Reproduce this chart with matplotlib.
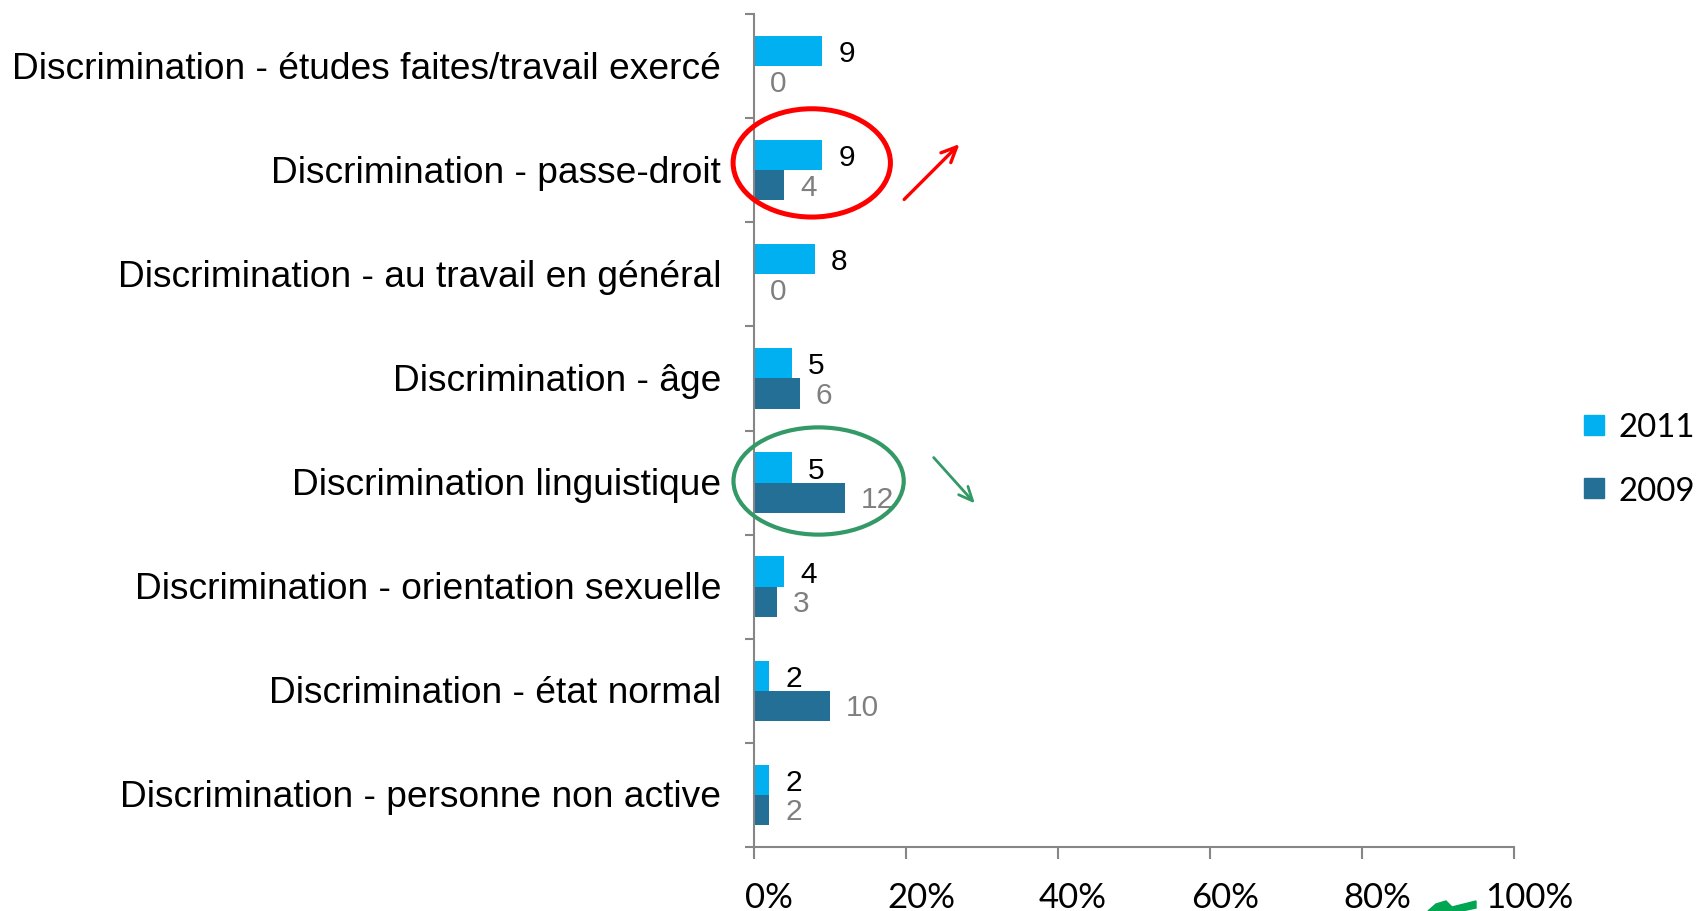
import numpy as np
import matplotlib
matplotlib.use('Agg')
import matplotlib.pyplot as plt
import matplotlib.transforms as mtransforms
from matplotlib.patches import Ellipse, Polygon
from matplotlib.lines import Line2D

# Données
categories = [
    'Discrimination - études faites/travail exercé',
    'Discrimination - passe-droit',
    'Discrimination - au travail en général',
    'Discrimination - âge',
    'Discrimination linguistique',
    'Discrimination - orientation sexuelle',
    'Discrimination - état normal',
    'Discrimination - personne non active',
]
values_2011 = [9, 9, 8, 5, 5, 4, 2, 2]
values_2009 = [0, 4, 0, 6, 12, 3, 10, 2]
series_names = ['2011', '2009']
x_ticks = [0, 20, 40, 60, 80, 100]
x_tick_labels = ['0%', '20%', '40%', '60%', '80%', '100%']

c_2011 = '#00B0F0'
c_2009 = '#246F96'
axis_gray = '#868686'
label_gray = '#7F7F7F'

fig = plt.figure(figsize=(16.96, 9.12), dpi=100)
ax = fig.add_axes([754 / 1696, 64 / 912, 760 / 1696, 833 / 912])

n = len(categories)
y = np.arange(n) + 0.5
bh = 0.29

ax.barh(y - bh / 2, values_2011, height=bh, color=c_2011, zorder=2)
ax.barh(y + bh / 2, values_2009, height=bh, color=c_2009, zorder=2)

# étiquettes de valeurs
for yi, v in zip(y, values_2011):
    ax.annotate(str(v), (v, yi - bh / 2), xytext=(11.5, -1.5), textcoords='offset points',
                ha='left', va='center', fontsize=21.5, color='black',
                family='Liberation Sans')
for yi, v in zip(y, values_2009):
    ax.annotate(str(v), (v, yi + bh / 2), xytext=(11.5, -1), textcoords='offset points',
                ha='left', va='center', fontsize=21.5, color=label_gray,
                family='Liberation Sans')

ax.set_xlim(0, 100)
ax.set_ylim(n, 0)

for s in ['top', 'right']:
    ax.spines[s].set_visible(False)
for s in ['left', 'bottom']:
    ax.spines[s].set_color(axis_gray)
    ax.spines[s].set_linewidth(1.5)

# axe y : graduations aux limites, libellés au centre
ax.set_yticks(np.arange(n + 1))
ax.set_yticklabels([])
ax.set_yticks(y, minor=True)
ax.set_yticklabels(categories, minor=True, fontsize=26.7, family='Liberation Sans')
ax.tick_params(axis='y', which='major', length=6.5, width=1.5, color=axis_gray, direction='out')
ax.tick_params(axis='y', which='minor', length=0, pad=23.5)
offset_y = mtransforms.ScaledTranslation(0, 2 / 100, fig.dpi_scale_trans)
for lab in ax.get_yticklabels(minor=True):
    lab.set_transform(lab.get_transform() + offset_y)

ax.set_xticks(x_ticks)
ax.set_xticklabels(x_tick_labels, fontsize=25, family='Lato')
ax.tick_params(axis='x', length=8.6, width=1.5, color=axis_gray, direction='out', pad=16)
offset = mtransforms.ScaledTranslation(15 / 100, 0, fig.dpi_scale_trans)
for lab in ax.get_xticklabels():
    lab.set_transform(lab.get_transform() + offset)

# annotations (cercles et flèches)
ax.add_patch(Ellipse((7.6, 1.43), 20.7, 1.04, fill=False, edgecolor='#FF0000',
                     linewidth=3.6, clip_on=False, zorder=3))
ax.annotate('', xy=(27.3, 1.23), xytext=(19.5, 1.80),
            arrowprops=dict(arrowstyle='->,head_length=1.1,head_width=0.5',
                            color='#FF0000', linewidth=2.4), annotation_clip=False)
ax.add_patch(Ellipse((8.5, 4.485), 22.4, 1.03, fill=False, edgecolor='#339966',
                     linewidth=3.0, clip_on=False, zorder=3))
ax.annotate('', xy=(29.3, 4.72), xytext=(23.4, 4.24),
            arrowprops=dict(arrowstyle='->,head_length=1.0,head_width=0.45',
                            color='#339966', linewidth=2.0), annotation_clip=False)

# morceau vert coupé en bas
fig.patches.append(Polygon([(1428 / 1696, 0), (1436 / 1696, 7 / 912), (1446 / 1696, 10 / 912),
                            (1452 / 1696, 4 / 912), (1476 / 1696, 10 / 912), (1476 / 1696, 3 / 912),
                            (1462 / 1696, 0)],
                           closed=True, color='#00A651', transform=fig.transFigure))

# légende
handles = [Line2D([], [], linestyle='none', marker='s', markersize=14.4,
                  markerfacecolor=c, markeredgecolor=c) for c in [c_2011, c_2009]]
fig.legend(handles, series_names, loc='center left',
           bbox_to_anchor=(1582 / 1696, 1 - 460 / 912), frameon=False,
           prop={'family': 'Lato', 'size': 23.8}, handlelength=0.75, handletextpad=0.35,
           labelspacing=1.0, borderpad=0, borderaxespad=0)

fig.savefig('out.png', dpi=100)
